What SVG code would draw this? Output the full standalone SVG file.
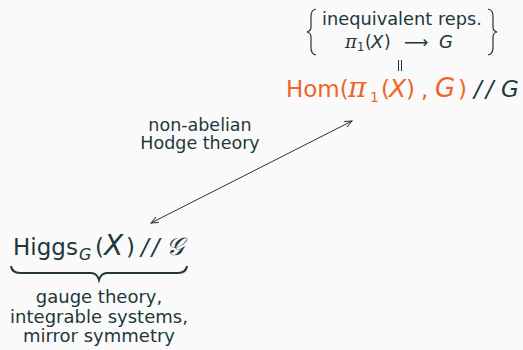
<svg xmlns="http://www.w3.org/2000/svg" width="523" height="350" viewBox="0 0 523 350">
<defs>
<style>
.t{font-family:"DejaVu Sans","Noto Sans",sans-serif;fill:#23373b}
.o{fill:#f0652a}
.i{font-style:italic}
.m{font-family:"DejaVu Serif","Liberation Serif",serif;font-style:italic}
.br{fill:none;stroke:#23373b;stroke-width:1.2}
</style>
<marker id="ah" viewBox="0 0 10 10" refX="9" refY="5" markerWidth="9" markerHeight="9" markerUnits="userSpaceOnUse" orient="auto-start-reverse">
<path d="M1,1.5 Q6,4 9,5 Q6,6 1,8.5" fill="none" stroke="#23373b" stroke-width="1.1"/>
</marker>
</defs>
<rect width="523" height="350" fill="#fafafa"/>
<g id="reps">
<path class="br" d="M316,9 Q311,10 311,16 L311,27 Q311,31 307,32 Q311,33 311,37 L311,48 Q311,54 316,55"/>
<path class="br" d="M488,9 Q493,10 493,16 L493,27 Q493,31 497,32 Q493,33 493,37 L493,48 Q493,54 488,55"/>
<text class="t" x="402" y="25" font-size="17.8" text-anchor="middle">inequivalent reps.</text>
<text class="t m" x="345" y="48" font-size="18">π</text>
<text class="t" x="357" y="51" font-size="11.5">1</text>
<text class="t" x="365" y="48" font-size="17">(</text>
<text class="t i" x="371" y="48" font-size="18">X</text>
<text class="t" x="384" y="48" font-size="17">)</text>
<text class="t" x="404" y="48" font-size="17">⟶</text>
<text class="t i" x="439" y="48" font-size="18">G</text>
<path d="M398.5,60V71M401.5,60V71" stroke="#23373b" stroke-width="1"/>
</g>
<g id="hom">
<text class="t o" x="286" y="97" font-size="23">Hom(</text>
<text class="t m o" x="348" y="97" font-size="28">π</text>
<text class="t o" x="370" y="102" font-size="14">1</text>
<text class="t o" x="381" y="97" font-size="23">(</text>
<text class="t i o" x="389" y="97" font-size="25">X</text>
<text class="t o" x="406" y="97" font-size="23">)</text>
<text class="t o" x="421" y="97" font-size="23">,</text>
<text class="t i o" x="435" y="97" font-size="26">G</text>
<text class="t o" x="458" y="97" font-size="23">)</text>
<text class="t i" x="474" y="97" font-size="23" letter-spacing="4">//</text>
<text class="t i" x="501" y="97" font-size="23">G</text>
</g>
<g id="label">
<text class="t" x="200" y="131" font-size="17.5" text-anchor="middle">non-abelian</text>
<text class="t" x="200" y="149" font-size="17.5" text-anchor="middle">Hodge theory</text>
</g>
<g id="connectors">
<line x1="151" y1="223" x2="352" y2="121" stroke="#23373b" stroke-width="1" marker-start="url(#ah)" marker-end="url(#ah)"/>
</g>
<g id="higgs">
<text class="t" x="13" y="255" font-size="23">Higgs</text>
<text class="t i" x="79" y="260" font-size="16">G</text>
<text class="t" x="95" y="255" font-size="23">(</text>
<text class="t i" x="104" y="255" font-size="28">X</text>
<text class="t" x="126" y="255" font-size="23">)</text>
<text class="t i" x="141" y="255" font-size="23" letter-spacing="3">//</text>
<text class="t i" x="166" y="255" font-size="25">𝒢</text>
<path d="M11,266 Q12,273 20,273 L91,273 Q97,273 99,280 Q101,273 107,273 L178,273 Q186,273 187,266" fill="none" stroke="#23373b" stroke-width="2"/>
<text class="t" x="99" y="303" font-size="18" text-anchor="middle">gauge theory,</text>
<text class="t" x="99" y="323" font-size="18" text-anchor="middle">integrable systems,</text>
<text class="t" x="99" y="342" font-size="18" text-anchor="middle">mirror symmetry</text>
</g>
</svg>
